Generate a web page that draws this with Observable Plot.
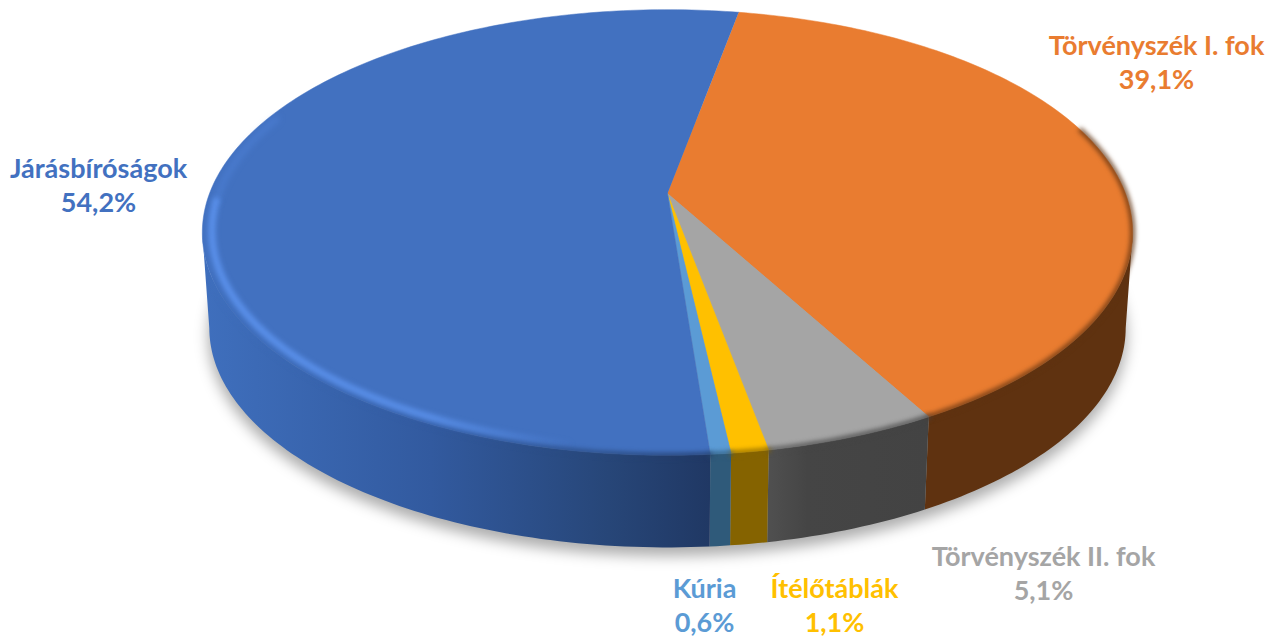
<!DOCTYPE html>
<html>
<head>
<meta charset="utf-8">
<script src="https://cdn.jsdelivr.net/npm/d3@7"></script>
<script src="https://cdn.jsdelivr.net/npm/@observablehq/plot@0.6"></script>
<style>html,body{margin:0;padding:0;background:#fff}svg{display:block}</style>
</head>
<body>
<div id="chart"></div>
<script>
// Data, in drawing order clockwise from the start of the first slice
const labels = ["Törvényszék I. fok", "Törvényszék II. fok", "Ítélőtáblák", "Kúria", "Járásbíróságok"];
const shareTexts = ["39,1%", "5,1%", "1,1%", "0,6%", "54,2%"];
const values = [39.1, 5.1, 1.1, 0.6, 54.2];
const topColors = ["#e97c30", "#a5a5a5", "#ffc000", "#5b9bd5", "#4271c0"];
const sideFills = ["#5f3210", "url(#sideGray)", "#856300", "#2f5a7a", "url(#sideBlue)"];
const labelCentreX = [1156, 1043, 834, 704, 98];
const labelCentreY = [61, 572, 604, 604, 184];

// Perspective view of the disc
const startAngle = 10.5, k = 0.175, A = 458, B = 216, cx = 667, topCy = 193, baseCy = 289, baseScale = 0.985;
const rad = Math.PI / 180;
const project = (deg, r = 1, cy = topCy, s = 1) => {
  const X = r * Math.sin(deg * rad), Y = -r * Math.cos(deg * rad), w = 1 - k * Y;
  return {x: cx + s * A * X / w, y: cy + s * B * Y / w};
};
const arc = (a0, a1) => {
  const n = Math.max(2, Math.ceil(Math.abs(a1 - a0)));
  return d3.range(n + 1).map(i => a0 + (a1 - a0) * i / n);
};
const total = d3.sum(values);
let acc = startAngle;
const slices = values.map((v, i) => {
  const a0 = acc; acc += v / total * 360;
  return {i, a0, a1: acc};
});
// Angles where the outline of the disc is vertical: the side is visible between them
const frontR = Math.acos(-k) / rad, frontL = 360 - frontR;
const clampFront = a => Math.min(frontL, Math.max(frontR, a));

const topPoly = slices.flatMap(s => [
  {id: s.i, ...project(0, 0)},
  ...arc(s.a0, s.a1).map(a => ({id: s.i, ...project(a)}))
]);
const sidePolys = slices.map(s => {
  const front = arc(clampFront(s.a0), clampFront(s.a1));
  return [...front.map(a => project(a)), ...front.slice().reverse().map(a => project(a, 1, baseCy, baseScale))];
});
const shadow = arc(0, 360).map(a => project(a, 1.002, baseCy + 8, baseScale));
const rim = slices.map(s => {
  const f = arc(Math.max(s.a0, 72), Math.min(s.a1, 248));
  return f.map(a => project(a));
});
const highlight = arc(190, 268).map(a => project(a, 0.98));
const highlightUpper = arc(268, 292).map(a => project(a, 0.98));

const defs = () => {
  const d = d3.create("svg:defs");
  const grad = (id, stops) => {
    const g = d.append("linearGradient").attr("id", id);
    stops.forEach(([o, c, op]) => g.append("stop").attr("offset", o).attr("stop-color", c).attr("stop-opacity", op ?? 1));
  };
  grad("sideBlue", [[0, "#3f6fbd"], [0.45, "#325a9f"], [0.8, "#274678"], [1, "#203864"]]);
  grad("sideGray", [[0, "#505050"], [0.25, "#454545"], [1, "#434343"]]);
  grad("rimBlue", [[0, "#5a90ea", 1], [0.6, "#5a90ea", 0.9], [1, "#5a90ea", 0]]);
  return d.node();
};

const labelMarks = slices.map(s => {
  const mid = project((s.a0 + s.a1) / 2);
  return Plot.text([{...mid, t: labels[s.i] + "\n" + shareTexts[s.i]}], {
    x: "x", y: "y", text: "t",
    dx: labelCentreX[s.i] - mid.x, dy: labelCentreY[s.i] - mid.y,
    fill: topColors[s.i], fontFamily: "Lato", fontWeight: 700, fontSize: 27,
    lineHeight: 1.26, textAnchor: "middle", lineAnchor: "middle"
  });
});

const chart = Plot.plot({
  width: 1276, height: 639, margin: 0,
  x: {domain: [0, 1276], range: [0, 1276], axis: null},
  y: {domain: [0, 639], range: [0, 639], axis: null},
  marks: [
    defs,
    Plot.line(shadow, {x: "x", y: "y", fill: "#000", fillOpacity: 0.32, stroke: "none", imageFilter: "blur(7px)"}),
    ...sidePolys.map((p, i) => Plot.line(p, {x: "x", y: "y", fill: sideFills[i], stroke: "none"})),
    Plot.line(topPoly, {x: "x", y: "y", z: "id", fill: d => topColors[d.id], stroke: d => topColors[d.id], strokeWidth: 0.5}),
    ...rim.map((p, i) => Plot.line(p, {x: "x", y: "y", stroke: sideFills[i], strokeWidth: 4, imageFilter: "blur(2.4px)"})),
    Plot.line(highlight, {x: "x", y: "y", stroke: "url(#rimBlue)", strokeWidth: 7, imageFilter: "blur(2.5px)"}),
    Plot.line(highlightUpper, {x: "x", y: "y", stroke: "#5a90ea", strokeOpacity: 0.35, strokeWidth: 6, imageFilter: "blur(3px)"}),
    ...labelMarks
  ]
});
document.getElementById("chart").append(chart);
</script>
</body>
</html>
